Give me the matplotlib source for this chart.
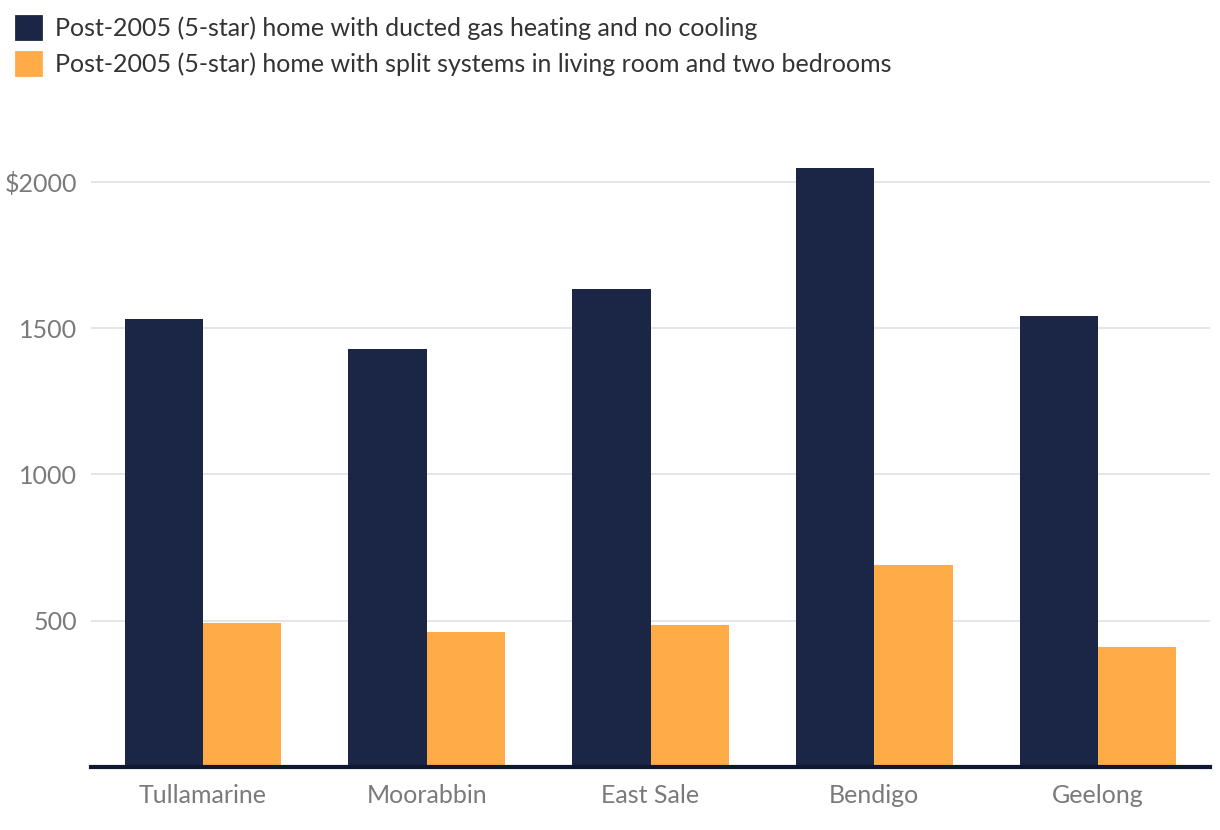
import numpy as np
from matplotlib import pyplot as plt
from matplotlib.patches import Patch

plt.rcParams['font.family'] = ['Lato', 'DejaVu Sans']

cities = ['Tullamarine', 'Moorabbin', 'East Sale', 'Bendigo', 'Geelong']
ducted_gas = [1531, 1429, 1634, 2048, 1542]
split_systems = [492, 461, 485, 690, 410]
labels = ['Post-2005 (5-star) home with ducted gas heating and no cooling',
          'Post-2005 (5-star) home with split systems in living room and two bedrooms']
yticks = [500, 1000, 1500, 2000]
ytick_labels = ['500', '1000', '1500', '$2000']

navy = '#1b2646'
orange = '#ffab47'

fig = plt.figure(figsize=(12.2, 8.3), dpi=100)
ax = fig.add_axes([91/1220, 1 - 767/830, (1210 - 91)/1220, (767 - 160)/830])

x = np.arange(len(cities))
w = 0.35
ax.bar(x - w/2, ducted_gas, w, color=navy, zorder=3)
ax.bar(x + w/2, split_systems, w, color=orange, zorder=3)

ax.set_xlim(-0.5, len(cities) - 0.5)
ax.set_ylim(0, 2075)
ax.set_yticks(yticks)
ax.set_yticklabels(ytick_labels)
ax.set_xticks(x)
ax.set_xticklabels(cities)
ax.grid(axis='y', color='#e3e3e3', linewidth=1.3, zorder=0)
ax.tick_params(axis='both', length=0, labelsize=18, labelcolor='#7a7a7a')
ax.tick_params(axis='y', pad=10)
ax.tick_params(axis='x', pad=12)
for s in ['top', 'right', 'left']:
    ax.spines[s].set_visible(False)
ax.spines['bottom'].set_color('#0f1733')
ax.spines['bottom'].set_linewidth(3)
ax.spines['bottom'].set_zorder(4)

handles = [Patch(facecolor=navy, edgecolor=navy, joinstyle='round', linewidth=2),
           Patch(facecolor=orange, edgecolor=orange, joinstyle='round', linewidth=2)]
fig.legend(handles, labels, loc='upper left', bbox_to_anchor=(0.0, 1.0),
           frameon=False, fontsize=18, handlelength=1.0, handleheight=1.0,
           handletextpad=0.55, labelspacing=0.5, labelcolor='#333333',
           borderaxespad=0.25)

fig.savefig('out.png', dpi=100)
